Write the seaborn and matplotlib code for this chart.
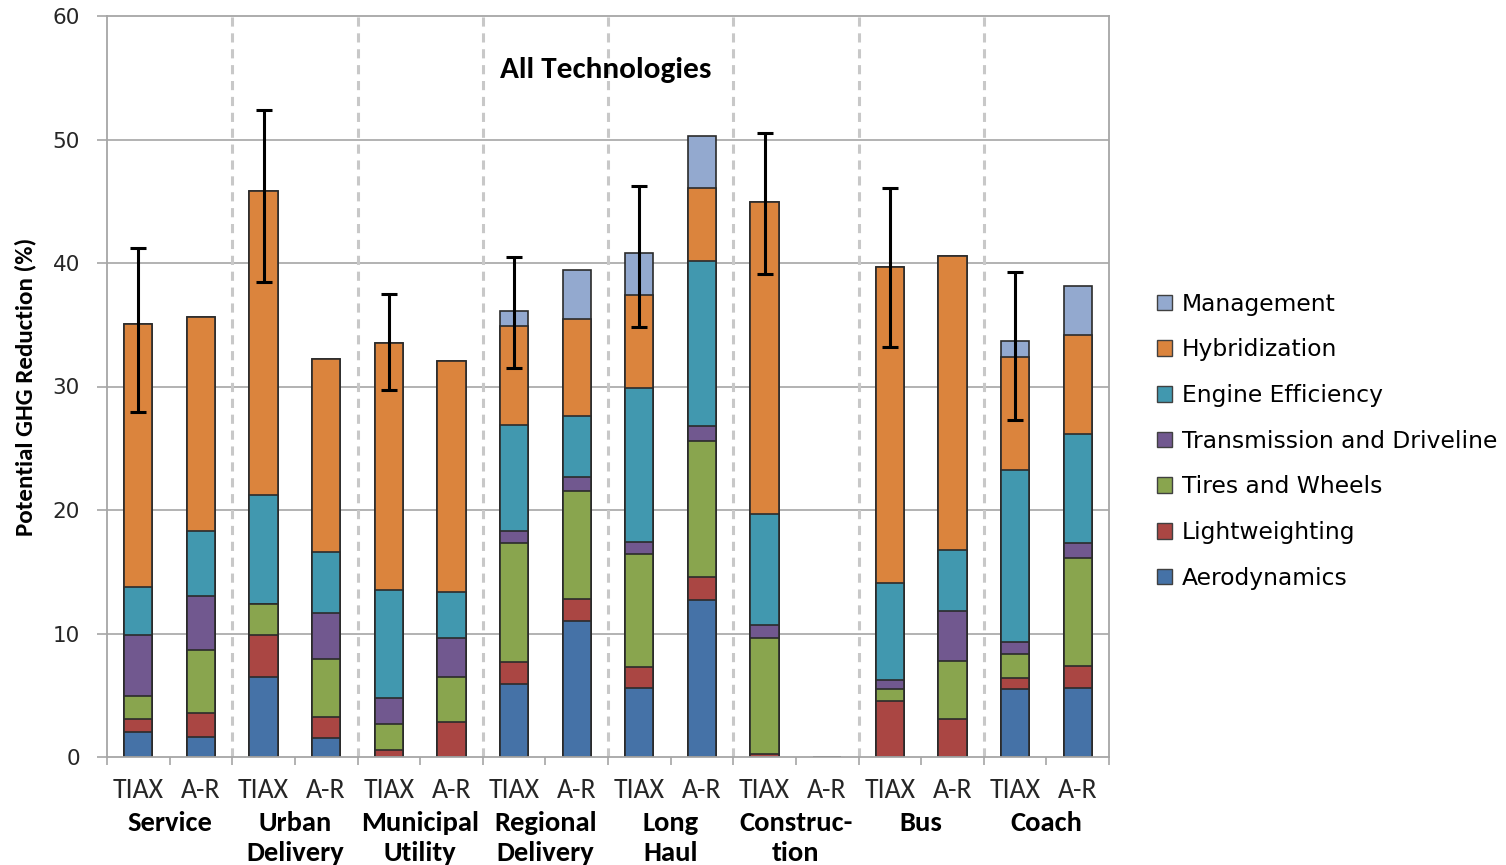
import numpy as np
import pandas as pd
import matplotlib
matplotlib.use("Agg")
import matplotlib.pyplot as plt
import matplotlib.transforms as mtransforms
from matplotlib.patches import Patch
from matplotlib import font_manager
import seaborn as sns

# ---------------- data ----------------
groups = ["Service", "Urban\nDelivery", "Municipal\nUtility", "Regional\nDelivery",
          "Long\nHaul", "Construc-\ntion", "Bus", "Coach"]
sources = ["TIAX", "A-R"]
technologies = ["Aerodynamics", "Lightweighting", "Tires and Wheels",
                "Transmission and Driveline", "Engine Efficiency", "Hybridization", "Management"]

aerodynamics   = [2.0, 1.6, 6.5, 1.5, 0.0, 0.0, 5.9, 11.0, 5.6, 12.7, 0.0, 0.0, 0.0, 0.0, 5.5, 5.6]
lightweighting = [1.1, 2.0, 3.4, 1.7, 0.6, 2.8, 1.8, 1.8, 1.7, 1.9, 0.25, 0.0, 4.5, 3.1, 0.9, 1.8]
tires_wheels   = [1.8, 5.1, 2.5, 4.7, 2.1, 3.7, 9.6, 8.7, 9.1, 11.0, 9.4, 0.0, 1.0, 4.7, 1.9, 8.7]
transmission   = [5.0, 4.3, 0.0, 3.8, 2.1, 3.1, 1.0, 1.2, 1.0, 1.2, 1.0, 0.0, 0.7, 4.05, 1.0, 1.2]
engine_eff     = [3.9, 5.3, 8.8, 4.9, 8.7, 3.8, 8.6, 4.9, 12.5, 13.4, 9.0, 0.0, 7.9, 4.9, 13.9, 8.85]
hybridization  = [21.3, 17.3, 24.6, 15.6, 20.0, 18.7, 8.0, 7.9, 7.5, 5.9, 25.3, 0.0, 25.6, 23.8, 9.2, 8.0]
management     = [0.0, 0.0, 0.0, 0.0, 0.0, 0.0, 1.2, 3.95, 3.4, 4.2, 0.0, 0.0, 0.0, 0.0, 1.25, 3.95]

# error bar bounds for the TIAX bars (one per group)
tiax_err_low  = [27.9, 38.5, 29.7, 31.5, 34.8, 39.1, 33.2, 27.3]
tiax_err_high = [41.2, 52.4, 37.5, 40.5, 46.2, 50.5, 46.1, 39.3]

y_ticks = [0, 10, 20, 30, 40, 50, 60]

colors = {
    "Aerodynamics": "#4572A7",
    "Lightweighting": "#AA4643",
    "Tires and Wheels": "#89A54E",
    "Transmission and Driveline": "#71588F",
    "Engine Efficiency": "#4198AF",
    "Hybridization": "#DB843D",
    "Management": "#93A9CF",
}

series = [aerodynamics, lightweighting, tires_wheels, transmission, engine_eff, hybridization, management]

# ---------------- fonts ----------------
available = {f.name for f in font_manager.fontManager.ttflist}
narrow = next((f for f in ["Carlito", "Lato", "Open Sans"] if f in available), "DejaVu Sans")
plt.rcParams["font.family"] = [narrow, "DejaVu Sans"]

# ---------------- long table ----------------
bar_keys = [f"{g}|{s}" for g in groups for s in sources]
rows = []
for tech, vals in zip(technologies, series):
    for key, v in zip(bar_keys, vals):
        rows.append({"bar": key, "technology": tech, "value": v})
df = pd.DataFrame(rows)
df["technology"] = pd.Categorical(df["technology"], categories=technologies, ordered=True)
df = df.sort_values(["bar", "technology"])
df["top"] = df.groupby("bar", sort=False)["value"].cumsum()

# ---------------- figure ----------------
fig = plt.figure(figsize=(15.06, 8.65), dpi=100)
ax = fig.add_axes([107 / 1506, 108 / 865, 1002 / 1506, 741 / 865])

grid_c = "#A6A6A6"
for y in y_ticks[1:-1]:
    ax.axhline(y, color=grid_c, lw=1.2, zorder=0)

# separators between groups
for i in range(1, len(groups)):
    ax.axvline(2 * i - 0.5, color="#C8C8C8", lw=2.2, ls=(0, (3, 2.2)), zorder=0.5)

# stacked bars: draw cumulative tops from the top layer downwards
for tech in reversed(technologies):
    sub = df[df["technology"] == tech]
    sns.barplot(data=sub, x="bar", y="top", order=bar_keys, color=colors[tech],
                saturation=1, width=0.45, edgecolor="#2b2b2b", linewidth=1.2,
                ax=ax, zorder=2, errorbar=None)

# error bars on TIAX bars
totals = df.groupby("bar", sort=False)["value"].sum().reindex(bar_keys).to_numpy()
tiax_pos = np.arange(0, 2 * len(groups), 2)
tiax_tot = totals[tiax_pos]
lo = np.array(tiax_err_low)
hi = np.array(tiax_err_high)
ax.errorbar(tiax_pos, tiax_tot, yerr=[tiax_tot - lo, hi - tiax_tot], fmt="none",
            ecolor="black", elinewidth=2.2, capsize=6, capthick=2.2, zorder=5)

ax.set_xlim(-0.5, 2 * len(groups) - 0.5)
ax.set_ylim(0, 60)
ax.set_yticks(y_ticks)
ax.set_yticklabels([str(t) for t in y_ticks], family="DejaVu Sans", fontsize=15.5, color="#262626")
ax.tick_params(axis="y", length=7.5, width=1.2, color=grid_c, pad=12)

ax.set_xticks(np.arange(2 * len(groups)))
ax.set_xticklabels([s for g in groups for s in sources], fontsize=20, color="#262626")
ax.tick_params(axis="x", which="major", length=0, pad=15)
ax.set_xticks(np.arange(-0.5, 2 * len(groups)), minor=True)
ax.tick_params(axis="x", which="minor", length=6, width=1.2, color=grid_c, direction="out")
ax.set_xlabel("")
ax.set_ylabel("")

for sp in ax.spines.values():
    sp.set_color(grid_c)
    sp.set_linewidth(1.3)

# group labels
trans = mtransforms.blended_transform_factory(ax.transData, ax.transAxes)
for i, g in enumerate(groups):
    ax.text(2 * i + 0.5, -0.0735, g, transform=trans, ha="center", va="top",
            fontsize=20.5, fontweight="bold", linespacing=1.3, color="black")

ax.text(0.498, 0.927, "All Technologies", transform=ax.transAxes, ha="center", va="center",
        fontsize=22.5, fontweight="bold", color="black")

fig.text(25 / 1506, (865 - 387) / 865, "Potential GHG Reduction (%)", rotation=90,
         ha="center", va="center", fontsize=18, fontweight="bold", color="black")

handles = [Patch(facecolor=colors[t], edgecolor="#404040", lw=1) for t in reversed(technologies)]
fig.legend(handles, list(reversed(technologies)), loc="center left",
           bbox_to_anchor=(1157 / 1506, 0.490), frameon=False,
           prop={"family": "DejaVu Sans", "size": 16.8},
           handlelength=0.65, handleheight=0.65, handletextpad=0.4,
           labelspacing=0.97, borderpad=0, borderaxespad=0)

fig.savefig("out.png", dpi=100)
